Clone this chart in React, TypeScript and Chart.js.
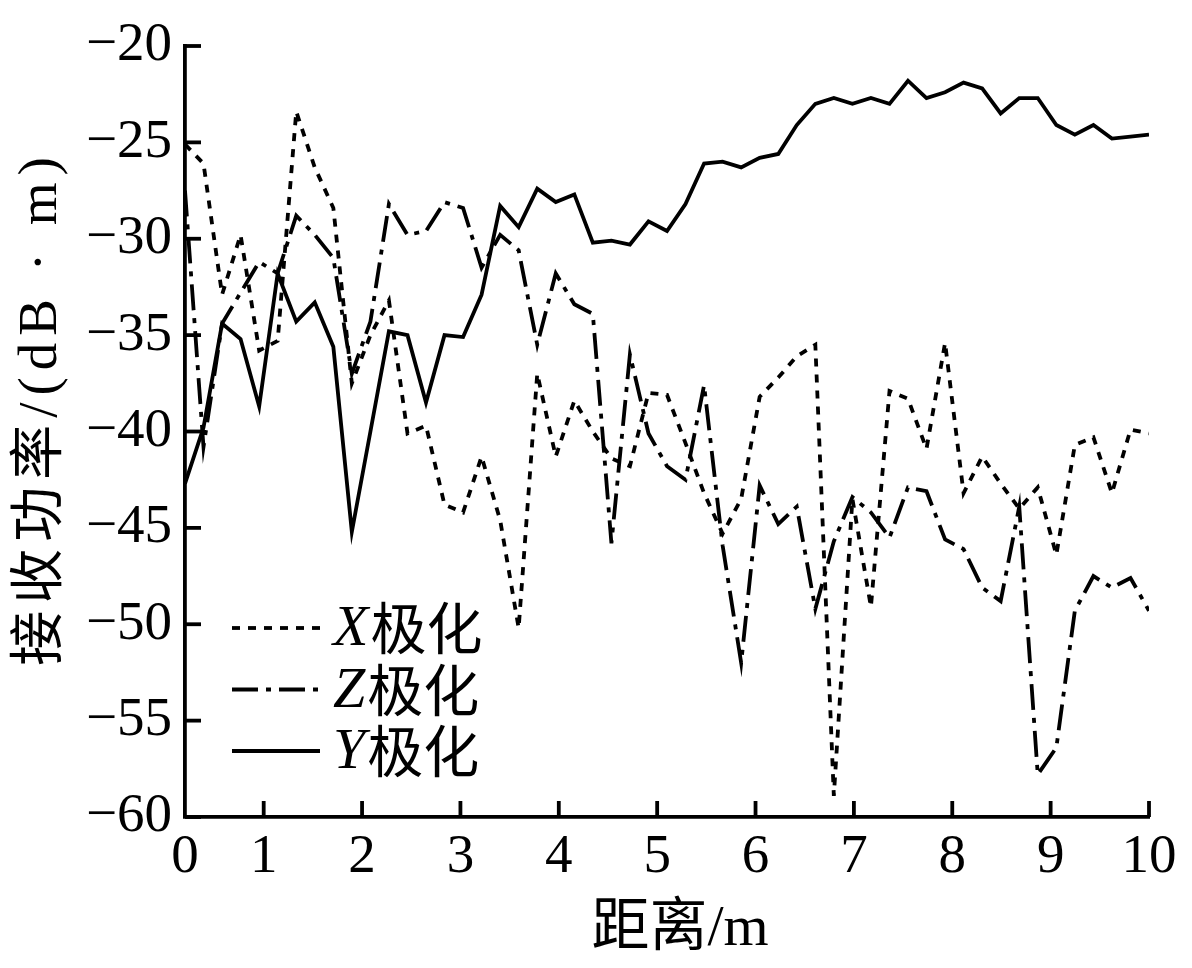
import React, { useEffect, useRef } from 'react';
import { Chart, registerables } from 'chart.js';

Chart.register(...registerables);

// distance (m) of each sample
const DIST = [
  0.2, 0.388, 0.577, 0.765, 0.954, 1.142, 1.331, 1.519, 1.708, 1.896,
  2.085, 2.273, 2.462, 2.65, 2.838, 3.027, 3.215, 3.404, 3.592, 3.781,
  3.969, 4.158, 4.346, 4.535, 4.723, 4.912, 5.1, 5.288, 5.477, 5.665,
  5.854, 6.042, 6.231, 6.419, 6.608, 6.796, 6.985, 7.173, 7.362, 7.55,
  7.738, 7.927, 8.115, 8.304, 8.492, 8.681, 8.869, 9.058, 9.246, 9.435,
  9.623, 9.812, 10,
];

// received power (dB·m)
const X_POL = [
  -25.1, -26.1, -32.9, -29.8, -35.8, -35.3, -23.4, -26.3, -28.4, -37.5,
  -35.0, -33.2, -40.1, -39.7, -43.8, -44.2, -41.3, -44.6, -50.2, -37.0,
  -41.3, -38.4, -40.0, -41.4, -41.8, -38.0, -38.1, -40.6, -43.2, -45.3,
  -43.5, -38.2, -37.2, -36.1, -35.5, -58.9, -43.5, -49.1, -37.9, -38.3,
  -40.9, -35.4, -43.2, -41.3, -42.7, -44.0, -42.9, -46.4, -40.7, -40.3,
  -43.2, -39.9, -40.1,
];

const Z_POL = [
  -27.5, -40.8, -34.4, -32.8, -31.2, -31.8, -28.8, -29.8, -31.0, -37.0,
  -34.3, -28.2, -29.8, -29.6, -28.1, -28.4, -31.5, -29.8, -30.6, -35.5,
  -31.8, -33.4, -33.9, -45.8, -36.0, -40.1, -41.8, -42.5, -37.6, -45.9,
  -52.0, -42.8, -44.8, -43.9, -49.2, -45.7, -43.4, -44.2, -45.5, -42.9,
  -43.1, -45.6, -46.1, -48.1, -48.8, -43.9, -57.8, -56.4, -49.3, -47.5,
  -48.1, -47.6, -49.3,
];

const Y_POL = [
  -42.7, -39.8, -34.4, -35.2, -38.7, -31.8, -34.3, -33.3, -35.6, -45.2,
  -40.0, -34.8, -35.0, -38.5, -35.0, -35.1, -32.9, -28.3, -29.4, -27.4,
  -28.1, -27.7, -30.2, -30.1, -30.3, -29.1, -29.6, -28.2, -26.1, -26.0,
  -26.3, -25.8, -25.6, -24.1, -23.0, -22.7, -23.0, -22.7, -23.0, -21.8,
  -22.7, -22.4, -21.9, -22.2, -23.5, -22.7, -22.7, -24.1, -24.6, -24.1,
  -24.8, -24.7, -24.6,
];

const SERIES_LABELS = ['X极化', 'Z极化', 'Y极化'];
const X_TICK_VALUES = [0.2, 1, 2, 3, 4, 5, 6, 7, 8, 9, 10];
const X_TICK_LABELS = ['0', '1', '2', '3', '4', '5', '6', '7', '8', '9', '10'];
const Y_TICK_VALUES = [-60, -55, -50, -45, -40, -35, -30, -25, -20];
const X_TITLE = '距离/m';
const Y_TITLE = '接收功率/(dB · m)';

const SERIF = "'Liberation Serif', 'Noto Sans CJK SC'";
const CJK = "'Noto Sans CJK SC'";
const FONT_SIZE = 55;
const LINE_W = 3.8;
const AXIS_W = 3.8;
const TICK_LEN = 16;

const decorPlugin = {
  id: 'decor',
  afterDraw(chart: any) {
    const { ctx, chartArea, scales } = chart;
    const xs = scales.x;
    const ys = scales.y;
    ctx.save();
    ctx.strokeStyle = '#000';
    ctx.fillStyle = '#000';
    ctx.lineCap = 'butt';

    // inward tick marks
    ctx.lineWidth = AXIS_W;
    ctx.setLineDash([]);
    Y_TICK_VALUES.forEach((v) => {
      const py = ys.getPixelForValue(v);
      ctx.beginPath();
      ctx.moveTo(chartArea.left, py);
      ctx.lineTo(chartArea.left + TICK_LEN, py);
      ctx.stroke();
    });
    X_TICK_VALUES.forEach((v, i) => {
      if (i === 0) return;
      const px = xs.getPixelForValue(v);
      ctx.beginPath();
      ctx.moveTo(px, chartArea.bottom);
      ctx.lineTo(px, chartArea.bottom - TICK_LEN);
      ctx.stroke();
    });

    // legend
    const lx0 = chartArea.left + 47;
    const lx1 = chartArea.left + 135;
    const tx = chartArea.left + 148;
    const ly0 = chartArea.top + 582;
    const rowH = 61.5;
    chart.data.datasets.forEach((ds: any, i: number) => {
      const ly = ly0 + i * rowH;
      ctx.lineWidth = LINE_W;
      ctx.setLineDash(ds.borderDash || []);
      ctx.beginPath();
      ctx.moveTo(lx0, ly);
      ctx.lineTo(lx1, ly);
      ctx.stroke();
      ctx.setLineDash([]);
      const label: string = ds.label;
      const letter = label.slice(0, 1);
      const rest = label.slice(1);
      ctx.textBaseline = 'middle';
      ctx.textAlign = 'left';
      ctx.font = `italic 58px 'Liberation Serif'`;
      ctx.fillText(letter, tx, ly + 2);
      const w = ctx.measureText(letter).width;
      ctx.font = `56px ${CJK}`;
      ctx.fillText(rest, tx + w + 2, ly);
    });

    // axis titles
    ctx.font = `58px ${SERIF}`;
    ctx.textAlign = 'center';
    ctx.textBaseline = 'middle';
    ctx.fillText(X_TITLE, (chartArea.left + chartArea.right) / 2 + 13, chartArea.bottom + 113);

    ctx.font = `${FONT_SIZE}px ${SERIF}`;
    try {
      (ctx as any).letterSpacing = '7px';
    } catch (e) {
      /* ignore */
    }
    ctx.translate(42, chartArea.top + 362);
    ctx.rotate(-Math.PI / 2);
    ctx.fillText(Y_TITLE, 0, 0);

    ctx.restore();
  },
};

export default function App() {
  const canvasRef = useRef<HTMLCanvasElement | null>(null);

  useEffect(() => {
    const canvas = canvasRef.current;
    if (!canvas) return;
    const mk = (vals: number[]) => DIST.map((d, i) => ({ x: d, y: vals[i] }));
    const common = {
      borderColor: '#000',
      backgroundColor: '#000',
      borderWidth: LINE_W,
      pointRadius: 0,
      tension: 0,
      fill: false,
      borderJoinStyle: 'miter' as const,
      borderCapStyle: 'butt' as const,
    };
    const chart = new Chart(canvas, {
      type: 'line',
      data: {
        datasets: [
          { ...common, label: SERIES_LABELS[0], data: mk(X_POL), borderDash: [8, 8] },
          { ...common, label: SERIES_LABELS[1], data: mk(Z_POL), borderDash: [26, 8, 5, 8] },
          { ...common, label: SERIES_LABELS[2], data: mk(Y_POL), borderDash: [] },
        ],
      },
      options: {
        responsive: false,
        animation: false,
        events: [],
        layout: { padding: { top: 40, right: 43, left: 0, bottom: 0 } },
        plugins: {
          legend: { display: false },
          tooltip: { enabled: false },
          title: { display: false },
        },
        scales: {
          x: {
            type: 'linear',
            min: 0.2,
            max: 10,
            afterBuildTicks: (axis: any) => {
              axis.ticks = X_TICK_VALUES.map((v) => ({ value: v }));
            },
            afterFit: (s: any) => {
              s.height = 151;
            },
            grid: { display: false, drawTicks: false },
            border: { display: true, width: AXIS_W, color: '#000' },
            ticks: {
              autoSkip: false,
              maxRotation: 0,
              padding: 8,
              color: '#000',
              font: { family: SERIF, size: FONT_SIZE },
              callback: (_v: any, i: number) => X_TICK_LABELS[i],
            },
          },
          y: {
            type: 'linear',
            min: -60,
            max: -20,
            afterBuildTicks: (axis: any) => {
              axis.ticks = Y_TICK_VALUES.map((v) => ({ value: v }));
            },
            afterFit: (s: any) => {
              s.width = 185;
            },
            grid: { display: false, drawTicks: false },
            border: { display: true, width: AXIS_W, color: '#000' },
            ticks: {
              autoSkip: false,
              padding: 13,
              color: '#000',
              font: { family: SERIF, size: FONT_SIZE },
              callback: (v: any) => (v < 0 ? '\u2212' + Math.abs(v) : String(v)),
            },
          },
        },
      },
      plugins: [decorPlugin],
    } as any);
    return () => chart.destroy();
  }, []);

  return (
    <div style={{ position: 'absolute', left: 0, top: 0, width: 1192, height: 968, background: '#fff' }}>
      <canvas ref={canvasRef} width={1192} height={968} style={{ display: 'block' }} />
    </div>
  );
}
